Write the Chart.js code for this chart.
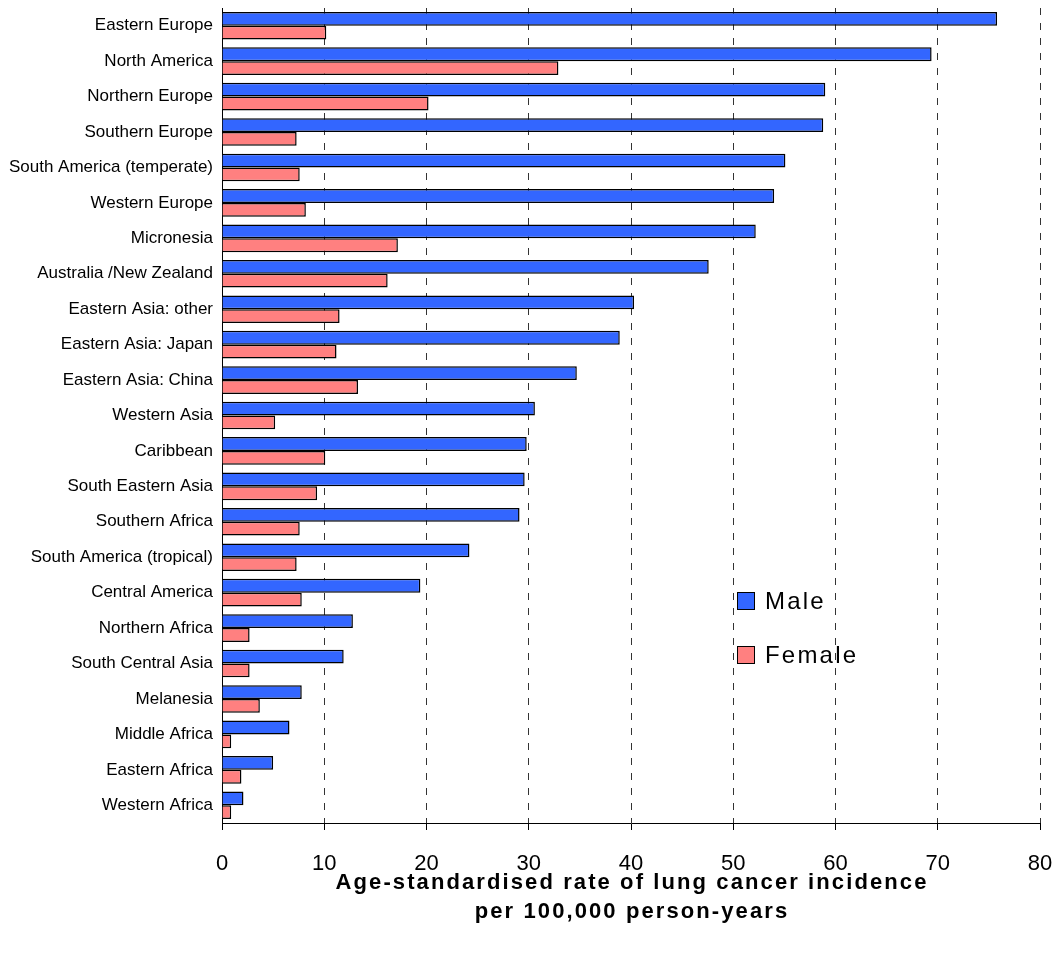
<!DOCTYPE html>
<html>
<head>
<meta charset="utf-8">
<script src="https://cdn.jsdelivr.net/npm/chart.js@4"></script>
<style>
  html, body { margin: 0; padding: 0; background: #fff; }
  #wrap { position: relative; width: 1061px; height: 953px; }
  .key { position: absolute; left: 737px; font: 24px "Liberation Sans", Arial, sans-serif; letter-spacing: 2.2px; color: #000; line-height: 18px; white-space: nowrap; }
  .key span { display: inline-block; width: 16px; height: 16px; border: 1px solid #000; vertical-align: top; margin-right: 10px; }
</style>
</head>
<body>
<div id="wrap">
  <canvas id="myChart" width="1061" height="953"></canvas>
  <div class="key" style="top:592px"><span style="background:#3366FF"></span>Male</div>
  <div class="key" style="top:646px"><span style="background:#FF8080"></span>Female</div>
</div>
<script>
const regions = ['Eastern Europe', 'North America', 'Northern Europe', 'Southern Europe', 'South America (temperate)',
    'Western Europe', 'Micronesia', 'Australia /New Zealand', 'Eastern Asia: other', 'Eastern Asia: Japan',
    'Eastern Asia: China', 'Western Asia', 'Caribbean', 'South Eastern Asia', 'Southern Africa',
    'South America (tropical)', 'Central America', 'Northern Africa', 'South Central Asia', 'Melanesia',
    'Middle Africa', 'Eastern Africa', 'Western Africa'];
const maleRates = [75.8, 69.4, 59.0, 58.8, 55.1, 54.0, 52.2, 47.6, 40.3, 38.9, 34.7, 30.6, 29.8, 29.6, 29.1,
    24.2, 19.4, 12.8, 11.9, 7.8, 6.6, 5.0, 2.1];
const femaleRates = [10.2, 32.9, 20.2, 7.3, 7.6, 8.2, 17.2, 16.2, 11.5, 11.2, 13.3, 5.2, 10.1, 9.3, 7.6,
    7.3, 7.8, 2.7, 2.7, 3.7, 0.9, 1.9, 0.9];
const xTicks = [0, 10, 20, 30, 40, 50, 60, 70, 80];
const xTitle = ['Age-standardised rate of lung cancer incidence', 'per 100,000 person-years'];

const fontFamily = '"Liberation Sans", Arial, sans-serif';

// axis title drawn by hand, the reference has wide letter spacing
const xTitlePlugin = {
    id: 'xTitle',
    afterDraw(chart) {
        const c = chart.ctx;
        const area = chart.chartArea;
        c.save();
        c.font = 'bold 22px ' + fontFamily;
        c.fillStyle = '#000';
        c.textAlign = 'center';
        c.textBaseline = 'middle';
        c.letterSpacing = '2.1px';
        const cx = (area.left + area.right) / 2;
        xTitle.forEach((line, i) => {
            c.fillText(line, cx + 1, area.bottom + 60 + i * 29);
        });
        c.restore();
    }
};

const ctx = document.getElementById('myChart').getContext('2d');
const myChart = new Chart(ctx, {
    type: 'bar',
    data: {
        labels: regions,
        datasets: [
            { label: 'Male', data: maleRates, backgroundColor: '#3366FF', borderColor: '#000', borderWidth: 1.5 },
            { label: 'Female', data: femaleRates, backgroundColor: '#FF8080', borderColor: '#000', borderWidth: 1.5 }
        ]
    },
    options: {
        indexAxis: 'y',
        responsive: false,
        animation: false,
        categoryPercentage: 0.78,
        barPercentage: 1.0,
        layout: { padding: { top: 8, right: 21, left: 0, bottom: 0 } },
        plugins: {
            legend: { display: false },
            tooltip: { enabled: false }
        },
        scales: {
            x: {
                min: 0,
                max: 80,
                afterBuildTicks: scale => { scale.ticks = xTicks.map(v => ({ value: v })); },
                afterFit: scale => {
                    scale.height = 130;
                    scale.paddingLeft = 0;
                    scale.paddingRight = 0;
                },
                grid: {
                    color: c => c.tick && c.tick.value === 0 ? 'rgba(0,0,0,0)' : '#333',
                    lineWidth: 1,
                    tickColor: '#000',
                    tickLength: 7,
                    tickBorderDash: []
                },
                border: { display: true, color: '#000', width: 1, dash: [7, 8] },
                ticks: {
                    color: '#000',
                    padding: 21,
                    font: { family: fontFamily, size: 22 }
                }
            },
            y: {
                afterFit: scale => {
                    scale.width = 222;
                    scale.paddingTop = 0;
                    scale.paddingBottom = 0;
                },
                grid: { display: false, drawTicks: false },
                border: { display: true, color: '#000', width: 1 },
                ticks: {
                    color: '#000',
                    padding: 9,
                    font: { family: fontFamily, size: 17 }
                }
            }
        }
    },
    plugins: [xTitlePlugin]
});
</script>
</body>
</html>
